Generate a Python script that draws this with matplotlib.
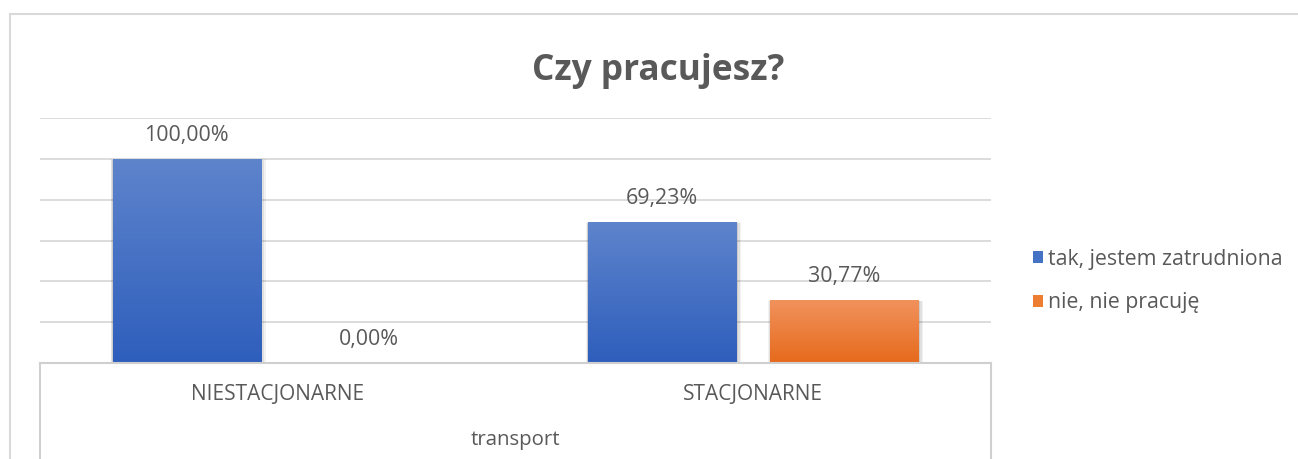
import numpy as np
import matplotlib
matplotlib.use("Agg")
import matplotlib.pyplot as plt
from matplotlib.patches import Rectangle, Patch
from matplotlib.lines import Line2D
from matplotlib.colors import LinearSegmentedColormap
from matplotlib import transforms

plt.rcParams['font.family'] = ['Open Sans', 'DejaVu Sans']

# Data
categories = ["NIESTACJONARNE", "STACJONARNE"]
group_label = "transport"
series_names = ["tak, jestem zatrudniona", "nie, nie pracuję"]
series_values = [
    [100.00, 69.23],   # tak, jestem zatrudniona
    [0.00, 30.77],     # nie, nie pracuję
]
title = "Czy pracujesz?"

TEXT = "#595959"
GRID = "#D9D9D9"
grad_colors = [("#2E5EBC", "#5E84CC"), ("#E66A1C", "#F1925C")]
solid_colors = ["#4472C4", "#ED7D31"]

W, H = 1298, 459
fig = plt.figure(figsize=(W / 100, H / 100), dpi=100)
fig.patch.set_facecolor("white")

ax_left, ax_right = 40, 991
ax_top, ax_bottom = 118, 363
ax = fig.add_axes([ax_left / W, (H - ax_bottom) / H,
                   (ax_right - ax_left) / W, (ax_bottom - ax_top) / H])

n_cat = len(categories)
x = np.arange(n_cat)
bar_w = 0.3116
offsets = [-0.1916, 0.1916]

ax.set_xlim(-0.5, n_cat - 0.5)
ax.set_ylim(0, 120)

# gridlines
for yv in np.arange(20, 121, 20):
    ax.axhline(yv, color=GRID, lw=1.3, zorder=0)

for s, (name, vals) in enumerate(zip(series_names, series_values)):
    cmap = LinearSegmentedColormap.from_list(f"g{s}", list(grad_colors[s]))
    for i, v in enumerate(vals):
        x0 = x[i] + offsets[s] - bar_w / 2
        if v > 0:
            # soft shadow
            for k, a in enumerate([0.05, 0.07, 0.09]):
                d = (3 - k) * 0.0022
                sh = Rectangle((x0 - d * 0.6, -0.5), bar_w + d * 2.2, v + 0.2 - k * 0.15,
                               facecolor="black", alpha=a, lw=0, zorder=2)
                ax.add_patch(sh)
            rect = Rectangle((x0, 0), bar_w, v, facecolor="none", lw=0, zorder=3)
            ax.add_patch(rect)
            grad = np.linspace(0, 1, 256).reshape(-1, 1)
            im = ax.imshow(grad, cmap=cmap, origin="lower", aspect="auto",
                           extent=(x0, x0 + bar_w, 0, v), zorder=3)
            im.set_clip_path(rect)
        ax.annotate(f"{v:.2f}%".replace(".", ","),
                    xy=(x[i] + offsets[s], v), xytext=(0, 17),
                    textcoords="offset points", ha="center", va="center",
                    fontsize=15.4, color=TEXT, zorder=5)

ax.set_xlim(-0.5, n_cat - 0.5)
ax.set_ylim(0, 120)
ax.axis("off")

# category axis box
bl = (ax_bottom - H) / (ax_bottom - ax_top)
ax.plot([0, 1], [0, 0], transform=ax.transAxes, color="#CFCFCF", lw=1.5,
        clip_on=False, zorder=4)
for xx in (0, 1):
    ax.plot([xx, xx], [0, bl - 0.05], transform=ax.transAxes, color="#D0D0D0",
            lw=1.5, clip_on=False, zorder=4)

trans = transforms.blended_transform_factory(ax.transData, fig.transFigure)
for i, c in enumerate(categories):
    ax.text(x[i], (H - 395) / H, c, transform=trans, ha="center", va="center",
            fontsize=15, color=TEXT)
fig.text((ax_left + ax_right) / 2 / W, (H - 440) / H, group_label,
         ha="center", va="center", fontsize=14.7, color=TEXT)

# title
fig.text(658 / W, (H - 71) / H, title, ha="center", va="center",
         fontsize=25.4, fontweight="bold", color=TEXT)

# outer chart frame
fig.add_artist(Line2D([10 / W, 10 / W], [0, (H - 14) / H], color=GRID, lw=1.5))
fig.add_artist(Line2D([10 / W, 1], [(H - 14) / H, (H - 14) / H], color=GRID, lw=1.5))

# legend
handles = [Patch(facecolor=solid_colors[k], edgecolor="none") for k in range(2)]
fig.legend(handles, series_names, loc="center left",
           bbox_to_anchor=(1022 / W, (H - 281) / H), frameon=False,
           fontsize=15.3, labelcolor=TEXT, handlelength=0.5, handleheight=0.5,
           handletextpad=0.2, labelspacing=1.05, borderpad=0)

fig.savefig("out.png", dpi=100, facecolor="white")
